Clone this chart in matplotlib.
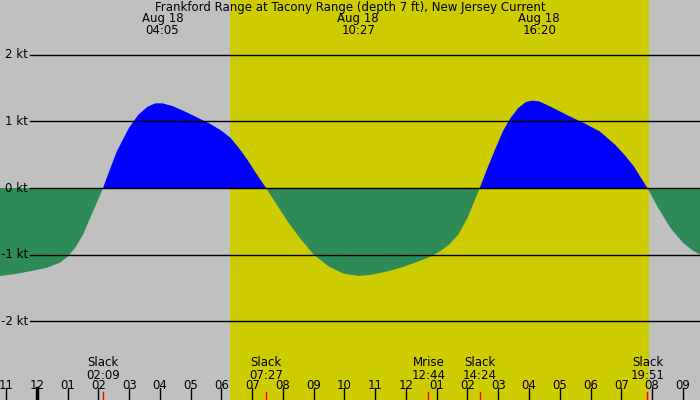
import numpy as np
import matplotlib
matplotlib.use("Agg")
import matplotlib.pyplot as plt

# data (hours since midnight Aug 18, knots)
hours = [-1.2, -0.7, -0.23, 0.3, 0.75, 1.0, 1.24, 1.5, 1.73, 1.95, 2.15, 2.35, 2.6, 2.99, 3.3, 3.6,
         3.85, 4.08, 4.4, 4.8, 5.2, 5.6, 6.0, 6.3, 6.6, 6.85, 7.1, 7.45,
         7.8, 8.15, 8.55, 9.0, 9.5, 9.95, 10.45, 10.9, 11.4, 11.8, 12.3, 12.8, 13.1, 13.4, 13.7, 14.0, 14.4,
         14.65, 14.9, 15.15, 15.4, 15.65, 15.9, 16.1, 16.33, 16.7, 17.3, 17.8, 18.3, 18.8, 19.1, 19.4,
         19.85, 20.2, 20.6, 21.0, 21.3, 21.56]
speed = [-1.32, -1.29, -1.25, -1.2, -1.12, -1.03, -0.9, -0.7, -0.45, -0.22, 0.0, 0.25, 0.55, 0.9, 1.1, 1.22,
         1.27, 1.27, 1.23, 1.15, 1.06, 0.97, 0.86, 0.75, 0.58, 0.42, 0.24, 0.0,
         -0.25, -0.5, -0.75, -1.0, -1.18, -1.28, -1.32, -1.3, -1.25, -1.2, -1.12, -1.03, -0.95, -0.85, -0.7, -0.45, 0.0,
         0.3, 0.58, 0.85, 1.05, 1.2, 1.29, 1.31, 1.3, 1.22, 1.08, 0.97, 0.85, 0.65, 0.5, 0.33,
         0.0, -0.3, -0.6, -0.82, -0.93, -1.0]
kt_levels = [-2, -1, 0, 1, 2]
events = [("Slack", "02:09", 2.15), ("Slack", "07:27", 7.45), ("Mrise", "12:44", 12.73),
          ("Slack", "14:24", 14.4), ("Slack", "19:51", 19.85)]
maxima = [("Aug 18", "04:05", 4.08), ("Aug 18", "10:27", 10.45), ("Aug 18", "16:20", 16.33)]
hour_ticks = list(range(-1, 22))
sunrise, sunset = 6.28, 19.9

fig = plt.figure(figsize=(7, 4), dpi=100)
fig.patch.set_facecolor("#c0c0c0")
ax = fig.add_axes([0, 0, 1, 1])
ax.set_facecolor("#c0c0c0")
x0, x1 = -1.2, 21.56
ax.set_xlim(x0, x1)
ax.set_ylim(-3.18, 2.82)
ax.axis("off")
ax.axvspan(sunrise, sunset, color="#cccc00", lw=0)

h = np.array(hours); s = np.array(speed)
ax.fill_between(h, s, 0, where=s >= 0, color="#0000ff", lw=0, interpolate=True)
ax.fill_between(h, s, 0, where=s <= 0, color="#2e8b57", lw=0, interpolate=True)

fs = 8.5
xl = x0 + (x1 - x0) * 30 / 700
for k in kt_levels:
    ax.plot([xl, x1], [k, k], color="black", lw=1)
    ax.text(xl - 0.07, k, f"{k} kt", ha="right", va="center", fontsize=fs)

ax.text(0.5, 0.998, "Frankford Range at Tacony Range (depth 7 ft), New Jersey Current",
        transform=ax.transAxes, ha="center", va="top", fontsize=fs)
ytop = 2.82 - 12 / 66.7
ax.text(x0 - 0.15, ytop, "17\n00", ha="right", va="top", fontsize=fs, linespacing=0.95)
for a, b, t in maxima:
    ax.text(t, ytop, f"{a}\n{b}", ha="center", va="top", fontsize=fs, linespacing=0.95)

ylab = -3.18 + (400 - 369) / 66.7
for a, b, t in events:
    ax.text(t, ylab, f"{a}\n{b}", ha="center", va="center", fontsize=fs, linespacing=0.95)
    ax.plot([t, t], [-3.18, -3.18 + 8 / 66.7], color="red", lw=1)

for hh in hour_ticks:
    lab = f"{(hh % 12) or 12:02d}"
    ax.text(hh, -3.18 + 15 / 66.7, lab, ha="center", va="center", fontsize=fs)
    ax.plot([hh, hh], [-3.18, -3.18 + 12 / 66.7], color="black", lw=2.5 if hh == 0 else 1)

fig.savefig("out.png", dpi=100, facecolor=fig.get_facecolor())
